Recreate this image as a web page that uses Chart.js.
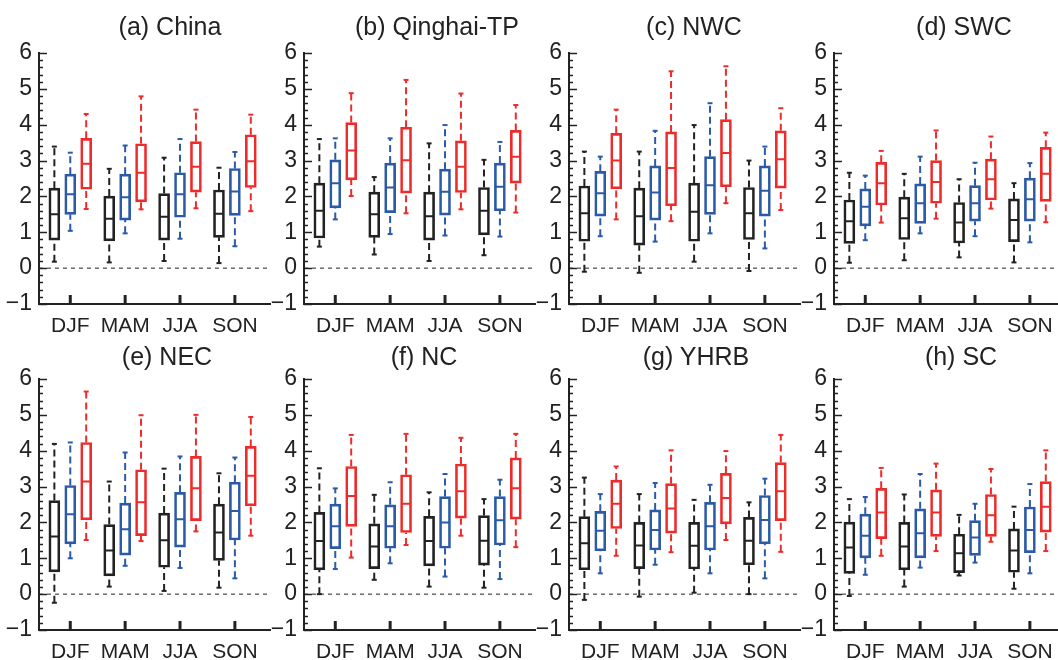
<!DOCTYPE html>
<html><head><meta charset="utf-8">
<script src="https://cdn.jsdelivr.net/npm/chart.js@4.4.0/dist/chart.umd.min.js"></script>
<style>
body{margin:0;width:1058px;height:660px;overflow:hidden;background:#fff;position:relative;font-family:'Liberation Sans',Arial,sans-serif}
canvas{position:absolute}
.t{position:absolute;font-size:25px;line-height:25px;color:#222;transform:translateX(-50%);white-space:nowrap}
</style></head><body>
<script>
const seasons = ['DJF','MAM','JJA','SON'];
const titles = ['(a) China','(b) Qinghai-TP','(c) NWC','(d) SWC','(e) NEC','(f) NC','(g) YHRB','(h) SC'];
const titleX = [170,437,694,964,167,424,696,961];
const seriesColors = ['#222222','#2a5aa8','#ee2b2b'];
// each entry: [min, q1, median, q3, max] for DJF, MAM, JJA, SON
const chinaBlack = [[0.18,0.78,1.50,2.23,3.39],[0.16,0.76,1.38,2.01,2.77],[0.20,0.78,1.43,2.08,3.08],[0.14,0.86,1.52,2.18,2.80]];
const chinaBlue  = [[1.04,1.50,2.06,2.62,3.22],[0.97,1.34,1.98,2.62,3.42],[0.82,1.42,2.06,2.66,3.60],[0.61,1.47,2.14,2.78,3.24]];
const chinaRed   = [[1.65,2.20,2.91,3.62,4.30],[1.64,1.85,2.66,3.47,4.79],[1.67,2.12,2.83,3.53,4.42],[1.59,2.25,2.98,3.72,4.28]];
const tpBlack = [[0.60,0.84,1.60,2.37,3.60],[0.38,0.86,1.50,2.12,2.54],[0.20,0.78,1.45,2.12,3.48],[0.36,0.93,1.60,2.25,3.02]];
const tpBlue  = [[1.36,1.68,2.37,3.02,3.62],[0.95,1.55,2.25,2.93,3.62],[0.91,1.48,2.13,2.76,3.99],[0.88,1.60,2.27,2.93,3.52]];
const tpRed   = [[2.01,2.46,3.28,4.06,4.88],[1.53,2.09,3.01,3.93,5.25],[1.64,2.11,2.83,3.55,4.87],[1.55,2.37,3.11,3.84,4.55]];
const nwcBlack = [[-0.10,0.75,1.53,2.29,3.25],[-0.13,0.64,1.45,2.23,3.25],[0.18,0.75,1.57,2.37,3.99],[-0.08,0.80,1.53,2.25,3.00]];
const nwcBlue  = [[0.89,1.45,2.09,2.70,3.11],[0.74,1.34,2.11,2.85,3.83],[0.97,1.50,2.31,3.11,4.60],[0.55,1.45,2.16,2.85,3.39]];
const nwcRed   = [[1.36,2.21,3.00,3.76,4.42],[1.31,1.74,2.79,3.80,5.49],[1.81,2.27,3.21,4.14,5.63],[1.62,2.23,3.04,3.83,4.46]];
const swcBlack = [[0.15,0.69,1.31,1.90,2.66],[0.22,0.80,1.39,1.98,2.63],[0.30,0.70,1.27,1.83,2.48],[0.16,0.74,1.34,1.93,2.37]];
const swcBlue  = [[0.78,1.18,1.71,2.21,2.58],[0.97,1.25,1.81,2.35,3.11],[0.89,1.31,1.81,2.30,2.94],[0.72,1.31,1.92,2.51,2.93]];
const swcRed   = [[1.27,1.76,2.37,2.95,3.27],[1.38,1.81,2.40,3.00,3.84],[1.66,1.90,2.48,3.04,3.67],[1.28,1.86,2.63,3.37,3.78]];
const necBlack = [[-0.24,0.62,1.61,2.61,4.19],[0.21,0.51,1.22,1.94,3.14],[0.09,0.75,1.50,2.26,3.50],[0.18,0.94,1.72,2.51,3.37]];
const necBlue  = [[1.00,1.40,2.23,3.03,4.23],[0.79,1.09,1.81,2.54,3.95],[0.73,1.31,2.09,2.84,3.84],[0.44,1.51,2.32,3.12,3.81]];
const necRed   = [[1.51,2.07,3.14,4.23,5.65],[1.48,1.63,2.56,3.47,4.99],[1.75,2.05,2.95,3.84,5.00],[1.63,2.46,3.30,4.12,4.94]];
const ncBlack = [[0.00,0.68,1.48,2.28,3.51],[0.40,0.71,1.33,1.96,2.77],[0.21,0.79,1.48,2.17,2.84],[0.18,0.81,1.49,2.19,2.65]];
const ncBlue  = [[0.70,1.27,1.89,2.51,2.95],[0.86,1.28,1.89,2.49,3.12],[0.49,1.28,2.00,2.72,3.35],[0.42,1.37,2.06,2.72,3.19]];
const ncRed   = [[1.02,1.89,2.74,3.56,4.44],[1.37,1.72,2.52,3.33,4.47],[1.63,2.12,2.87,3.63,4.36],[1.31,2.09,2.95,3.80,4.47]];
const yhrbBlack = [[-0.16,0.68,1.42,2.16,3.25],[-0.07,0.71,1.36,2.00,2.79],[0.04,0.70,1.35,2.00,2.63],[0.00,0.82,1.49,2.14,2.56]];
const yhrbBlue  = [[0.58,1.21,1.77,2.31,2.79],[0.82,1.23,1.79,2.35,3.10],[0.58,1.23,1.89,2.56,3.05],[0.44,1.40,2.07,2.75,3.22]];
const yhrbRed   = [[1.07,1.83,2.52,3.18,3.56],[1.17,1.70,2.39,3.08,4.01],[1.51,1.96,2.68,3.37,3.99],[1.18,2.05,2.87,3.67,4.44]];
const scBlack = [[-0.05,0.58,1.30,2.01,2.65],[0.21,0.68,1.33,2.00,2.78],[0.52,0.60,1.14,1.67,2.21],[0.15,0.61,1.22,1.82,2.44]];
const scBlue  = [[0.54,1.01,1.63,2.23,2.71],[0.74,1.01,1.70,2.38,3.35],[0.88,1.08,1.58,2.05,2.52],[0.58,1.16,1.79,2.43,3.07]];
const scRed   = [[1.07,1.55,2.28,2.95,3.52],[1.20,1.61,2.28,2.91,3.64],[1.46,1.61,2.20,2.78,3.49],[1.20,1.73,2.44,3.14,4.01]];

const panelSeries = [
  [chinaBlack, chinaBlue, chinaRed], [tpBlack, tpBlue, tpRed], [nwcBlack, nwcBlue, nwcRed], [swcBlack, swcBlue, swcRed],
  [necBlack, necBlue, necRed], [ncBlack, ncBlue, ncRed], [yhrbBlack, yhrbBlue, yhrbRed], [scBlack, scBlue, scRed]
];
const seriesOffset = [-0.29, 0, 0.29];
const X_MIN = 0.43, X_MAX = 4.64;

const innerTicks = {
  id: 'innerTicks',
  afterDraw(chart) {
    const {ctx, chartArea: a, scales: {x, y}} = chart;
    ctx.save();
    ctx.strokeStyle = '#222';
    ctx.lineWidth = 1.5;
    for (let k = -5; k <= 30; k++) {
      const py = Math.round(y.getPixelForValue(k / 5)) + 0.5;
      const len = k % 5 === 0 ? 8 : 4;
      ctx.beginPath(); ctx.moveTo(a.left, py); ctx.lineTo(a.left + len, py); ctx.stroke();
    }
    ctx.lineWidth = 3;
    seasons.forEach((s, i) => {
      const px = x.getPixelForValue(i + 1);
      ctx.beginPath(); ctx.moveTo(px, a.bottom); ctx.lineTo(px, a.bottom - 9); ctx.stroke();
    });
    ctx.restore();
  }
};

function buildDatasets(series) {
  const ds = [];
  ds.push({type: 'line', data: [{x: X_MIN, y: 0}, {x: X_MAX, y: 0}], borderColor: '#222', borderWidth: 1,
    borderDash: [4, 4], pointRadius: 0, order: 10});
  series.forEach((vals, s) => {
    const col = seriesColors[s];
    const xs = seasons.map((_, i) => i + 1 + seriesOffset[s]);
    ds.push({type: 'bar', data: vals.map((v, i) => ({x: xs[i], y: [v[1], v[3]]})),
      backgroundColor: 'rgba(0,0,0,0)', borderColor: col, borderWidth: 2, borderSkipped: false,
      barThickness: 11, grouped: false});
    const wh = [];
    vals.forEach((v, i) => {
      wh.push({x: xs[i], y: v[0]}, {x: xs[i], y: v[1]}, {x: xs[i], y: null},
              {x: xs[i], y: v[3]}, {x: xs[i], y: v[4]}, {x: xs[i], y: null});
    });
    ds.push({type: 'line', data: wh, borderColor: col, borderWidth: 2, borderDash: [7, 4],
      pointRadius: 0, spanGaps: false});
    const md = [];
    vals.forEach((v, i) => {
      md.push({x: xs[i] - 0.08, y: v[2]}, {x: xs[i] + 0.08, y: v[2]}, {x: xs[i] + 0.08, y: null});
    });
    ds.push({type: 'line', data: md, borderColor: col, borderWidth: 2, pointRadius: 0, spanGaps: false});
    const caps = [];
    vals.forEach((v, i) => { caps.push({x: xs[i], y: v[0]}, {x: xs[i], y: v[4]}); });
    ds.push({type: 'line', showLine: false, data: caps, pointStyle: 'line', pointRadius: 2.5,
      pointBorderWidth: 2, pointBorderColor: col, borderColor: col});
  });
  return ds;
}

panelSeries.forEach((series, p) => {
  const row = Math.floor(p / 4), col = p % 4;
  const top = row === 0 ? 0 : 330;
  const padTop = row === 0 ? 53 : 49;
  const h = row === 0 ? 340 : 336;
  const cv = document.createElement('canvas');
  cv.width = 276; cv.height = h;
  cv.style.left = (265 * col) + 'px'; cv.style.top = top + 'px';
  cv.style.width = '276px'; cv.style.height = h + 'px';
  document.body.appendChild(cv);
  const tdiv = document.createElement('div');
  tdiv.className = 't';
  tdiv.textContent = titles[p];
  tdiv.style.left = titleX[p] + 'px';
  tdiv.style.top = (row === 0 ? 14 : 344) + 'px';
  document.body.appendChild(tdiv);
  new Chart(cv, {
    type: 'bar',
    data: {datasets: buildDatasets(series)},
    options: {
      responsive: false, animation: false, events: [],
      layout: {padding: {top: padTop, left: 0, right: 0, bottom: 0}},
      plugins: {legend: {display: false}, tooltip: {enabled: false}, title: {display: false}},
      scales: {
        x: {type: 'linear', min: X_MIN, max: X_MAX, offset: false,
          afterBuildTicks: s => { s.ticks = seasons.map((_, i) => ({value: i + 1})); },
          afterFit: s => { s.height = 36; },
          grid: {display: false, drawTicks: false},
          border: {display: true, width: 2, color: '#222'},
          ticks: {autoSkip: false, maxRotation: 0, padding: 10, color: '#222',
            font: {family: 'Liberation Sans', size: 21},
            callback: v => seasons[Math.round(v) - 1] || ''}
        },
        y: {type: 'linear', min: -1, max: 6,
          afterFit: s => { s.width = 39; },
          grid: {display: false, drawTicks: false},
          border: {display: true, width: 2, color: '#222'},
          ticks: {stepSize: 1, padding: 7, color: '#222', font: {family: 'Liberation Sans', size: 23},
            callback: v => (v < 0 ? '\u2212' + Math.abs(v) : String(v))}
        }
      }
    },
    plugins: [innerTicks]
  });
});
</script>
</body></html>
